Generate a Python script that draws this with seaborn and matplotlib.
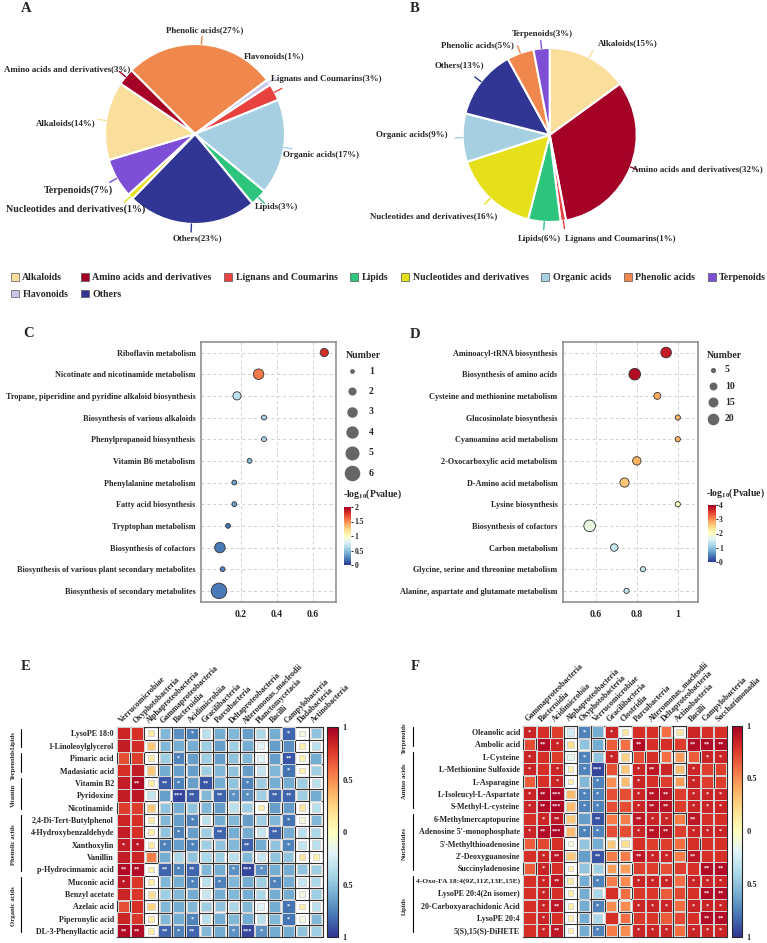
import numpy as np
import pandas as pd
import matplotlib
matplotlib.use("Agg")
import matplotlib.pyplot as plt
import seaborn as sns
from matplotlib.colors import Normalize
from matplotlib.cm import ScalarMappable
from matplotlib.patches import Patch

sns.set_style("white")
plt.rcParams["font.family"] = ["Liberation Serif", "DejaVu Serif"]
plt.rcParams["font.weight"] = "bold"
plt.rcParams["mathtext.fontset"] = "custom"
plt.rcParams["mathtext.rm"] = "Liberation Serif:bold"
plt.rcParams["mathtext.it"] = "Liberation Serif:bold"
plt.rcParams["mathtext.bf"] = "Liberation Serif:bold"

W, H = 767, 943

# ---------------- data: pies ----------------
class_names = ["Alkaloids", "Amino acids and derivatives", "Lignans and Coumarins", "Lipids",
               "Nucleotides and derivatives", "Organic acids", "Phenolic acids", "Terpenoids",
               "Flavonoids", "Others"]
class_colors = ["#FADF9C", "#A50026", "#E8413F", "#2DC47E", "#E6E01B", "#A6D0E2",
                "#F0884E", "#7D4FD6", "#C9C7E9", "#313695"]

pie_a_labels = ["Phenolic acids", "Flavonoids", "Lignans and Coumarins", "Organic acids", "Lipids",
                "Others", "Nucleotides and derivatives", "Terpenoids", "Alkaloids",
                "Amino acids and derivatives"]
pie_a_values = [27, 1, 3, 17, 3, 23, 1, 7, 14, 3]

pie_b_labels = ["Alkaloids", "Amino acids and derivatives", "Lignans and Coumarins", "Lipids",
                "Nucleotides and derivatives", "Organic acids", "Others", "Phenolic acids", "Terpenoids"]
pie_b_values = [15, 32, 1, 6, 16, 9, 13, 5, 3]

# ---------------- data: bubbles ----------------
c_pathways = ["Riboflavin metabolism", "Nicotinate and nicotinamide metabolism",
              "Tropane, piperidine and pyridine alkaloid biosynthesis",
              "Biosynthesis of various alkaloids", "Phenylpropanoid biosynthesis",
              "Vitamin B6 metabolism", "Phenylalanine metabolism", "Fatty acid biosynthesis",
              "Tryptophan metabolism", "Biosynthesis of cofactors",
              "Biosynthesis of various plant secondary metabolites",
              "Biosynthesis of secondary metabolites"]
c_ratio = [0.665, 0.30, 0.18, 0.33, 0.33, 0.25, 0.165, 0.165, 0.13, 0.085, 0.10, 0.08]
c_count = [2, 3, 2, 1, 1, 1, 1, 1, 1, 3, 1, 6]
c_logp = [1.8, 1.56, 0.66, 0.6, 0.6, 0.46, 0.36, 0.36, 0.2, 0.22, 0.26, 0.22]

d_pathways = ["Aminoacyl-tRNA biosynthesis", "Biosynthesis of amino acids",
              "Cysteine and methionine metabolism", "Glucosinolate biosynthesis",
              "Cyanoamino acid metabolism", "2-Oxocarboxylic acid metabolism",
              "D-Amino acid metabolism", "Lysine biosynthesis", "Biosynthesis of cofactors",
              "Carbon metabolism", "Glycine, serine and threonine metabolism",
              "Alanine, aspartate and glutamate metabolism"]
d_ratio = [0.943, 0.79, 0.90, 1.0, 1.0, 0.80, 0.74, 1.0, 0.57, 0.69, 0.83, 0.75]
d_count = [17, 25, 8, 5, 5, 11, 13, 4, 22, 9, 5, 5]
d_logp = [3.75, 3.9, 2.8, 2.75, 2.75, 2.75, 2.6, 2.0, 1.75, 1.45, 1.4, 1.4]

# ---------------- data: correlation heatmaps ----------------
e_rows = ["LysoPE 18:0", "1-Linoleoylglycerol", "Pimaric acid", "Madasiatic acid", "Vitamin B2",
          "Pyridoxine", "Nicotinamide", "2,4-Di-Tert-Butylphenol", "4-Hydroxybenzaldehyde",
          "Xanthoxylin", "Vanillin", "p-Hydrocinnamic acid", "Muconic acid", "Benzyl acetate",
          "Azelaic acid", "Piperonylic acid", "DL-3-Phenyllactic acid"]
e_cols = ["Verrucomicrobiae", "Oxyphotobacteria", "Alphaproteobacteria", "Gammaproteobacteria",
          "Bacteroidia", "Acidimicrobiia", "Gracilibacteria", "Parcubacteria",
          "Deltaproteobacteria", "Alteromonas_macleodii", "Planctomycetacia", "Bacilli",
          "Campylobacteria", "Dadabacteria", "Actinobacteria"]
e_r = [
    [0.85, 0.80, 0.12, -0.55, -0.70, -0.75, -0.35, -0.60, -0.55, -0.65, -0.40, -0.60, -0.85, -0.10, -0.50],
    [0.88, 0.82, 0.30, -0.55, -0.60, -0.60, -0.45, -0.65, -0.45, -0.60, -0.20, -0.65, -0.70, 0.08, -0.35],
    [0.70, 0.75, 0.12, -0.45, -0.75, -0.65, -0.45, -0.65, -0.50, -0.55, -0.20, -0.65, -0.90, 0.08, -0.60],
    [0.80, 0.88, 0.30, -0.60, -0.65, -0.65, -0.45, -0.55, -0.50, -0.65, -0.30, -0.55, -0.80, 0.08, -0.45],
    [0.88, 0.95, 0.12, -0.88, -0.75, -0.65, -0.90, -0.60, -0.50, -0.75, -0.45, -0.60, -0.60, -0.45, -0.35],
    [0.88, 0.90, -0.30, -0.65, -0.95, -0.88, -0.55, -0.85, -0.70, -0.70, -0.45, -0.85, -0.85, -0.45, -0.60],
    [0.75, 0.75, 0.30, -0.50, -0.60, -0.50, -0.55, -0.65, -0.35, -0.45, 0.10, -0.65, -0.65, 0.15, -0.35],
    [0.85, 0.80, 0.12, -0.55, -0.65, -0.75, -0.35, -0.60, -0.55, -0.65, -0.45, -0.55, -0.80, -0.10, -0.55],
    [0.88, 0.80, 0.10, -0.50, -0.75, -0.65, -0.45, -0.85, -0.60, -0.60, -0.30, -0.85, -0.60, -0.35, -0.40],
    [0.88, 0.90, 0.12, -0.75, -0.65, -0.75, -0.45, -0.50, -0.55, -0.85, -0.60, -0.50, -0.75, -0.30, -0.35],
    [0.88, 0.85, 0.55, -0.60, -0.40, -0.50, -0.40, -0.45, -0.35, -0.55, -0.30, -0.50, -0.50, 0.15, 0.08],
    [0.95, 0.95, 0.10, -0.85, -0.75, -0.85, -0.55, -0.60, -0.70, -0.95, -0.70, -0.60, -0.60, -0.50, -0.45],
    [0.90, 0.78, 0.10, -0.55, -0.60, -0.75, -0.35, -0.75, -0.55, -0.60, -0.45, -0.75, -0.60, -0.30, -0.40],
    [0.85, 0.78, 0.20, -0.45, -0.55, -0.60, -0.30, -0.60, -0.55, -0.60, -0.40, -0.60, -0.60, -0.10, -0.45],
    [0.70, 0.80, 0.25, -0.55, -0.60, -0.55, -0.45, -0.50, -0.40, -0.55, -0.20, -0.60, -0.80, 0.10, -0.35],
    [0.85, 0.78, 0.12, -0.55, -0.60, -0.75, -0.35, -0.60, -0.55, -0.60, -0.35, -0.55, -0.80, -0.10, -0.55],
    [0.95, 0.95, 0.10, -0.85, -0.75, -0.85, -0.55, -0.60, -0.70, -0.95, -0.70, -0.60, -0.60, -0.50, -0.45],
]
e_sig = [
    ["", "", "", "", "", "*", "", "", "", "", "", "", "*", "", ""],
    ["", "", "", "", "", "", "", "", "", "", "", "", "", "", ""],
    ["", "", "", "", "*", "", "", "", "", "", "", "", "**", "", ""],
    ["", "", "", "", "", "", "", "", "", "", "", "", "*", "", ""],
    ["", "**", "", "**", "*", "", "**", "", "", "*", "", "", "", "", ""],
    ["", "", "", "", "***", "**", "", "**", "*", "*", "", "**", "**", "", ""],
    ["", "", "", "", "", "", "", "", "", "", "", "", "", "", ""],
    ["", "", "", "", "", "*", "", "", "", "", "", "", "*", "", ""],
    ["", "", "", "", "*", "", "", "**", "", "", "", "**", "", "", ""],
    ["*", "*", "", "*", "", "*", "", "", "", "**", "", "", "*", "", ""],
    ["", "", "", "", "", "", "", "", "", "", "", "", "", "", ""],
    ["**", "**", "", "**", "*", "**", "", "", "*", "***", "*", "", "", "", ""],
    ["*", "", "", "", "", "*", "", "*", "", "", "", "*", "", "", ""],
    ["", "", "", "", "", "", "", "", "", "", "", "", "", "", ""],
    ["", "", "", "", "", "", "", "", "", "", "", "", "*", "", ""],
    ["", "", "", "", "", "*", "", "", "", "", "", "", "*", "", ""],
    ["**", "**", "", "**", "*", "**", "", "", "*", "***", "*", "", "", "", ""],
]
e_groups = [("Lipids", 0, 1), ("Terpenoids", 2, 3), ("Vitamin", 4, 6),
            ("Phenolic acids", 7, 11), ("Organic acids", 12, 16)]

f_rows = ["Oleanolic acid", "Ambolic acid", "L-Cysteine", "L-Methionine Sulfoxide", "L-Asparagine",
          "L-Isoleucyl-L-Aspartate", "S-Methyl-L-cysteine", "6-Methylmercaptopurine",
          "Adenosine 5'-monophosphate", "5'-Methylthioadenosine", "2'-Deoxyguanosine",
          "Succinyladenosine", "4-Oxo-FA 18:4(9Z,11Z,13E,15E)", "LysoPE 20:4(2n isomer)",
          "20-Carboxyarachidonic Acid", "LysoPE 20:4", "5(S),15(S)-DiHETE"]
f_cols = ["Gammaproteobacteria", "Bacteroidia", "Acidimicrobiia", "Alphaproteobacteria",
          "Oxyphotobacteria", "Verrucomicrobiae", "Gracilibacteria", "Clostridia", "Parcubacteria",
          "Alteromonas_macleodii", "Deltaproteobacteria", "Actinobacteria", "Bacilli",
          "Campylobacteria", "Saccharimonadia"]
f_r = [
    [0.85, 0.80, 0.75, -0.25, -0.75, -0.60, 0.85, 0.15, 0.80, 0.80, 0.60, 0.15, 0.85, 0.80, 0.80],
    [0.70, 0.95, 0.85, 0.20, -0.50, -0.60, 0.65, 0.60, 0.95, 0.80, 0.80, 0.75, 0.95, 0.95, 0.95],
    [0.85, 0.80, 0.75, -0.15, -0.75, -0.50, 0.85, 0.25, 0.70, 0.80, 0.60, 0.45, 0.65, 0.85, 0.85],
    [0.85, 0.80, 0.85, 0.10, -0.75, -0.95, 0.70, 0.30, 0.85, 0.90, 0.85, 0.35, 0.85, 0.75, 0.75],
    [0.65, 0.80, 0.85, 0.10, -0.55, -0.75, 0.50, 0.35, 0.85, 0.80, 0.75, 0.45, 0.85, 0.75, 0.75],
    [0.85, 0.95, 0.97, 0.35, -0.75, -0.75, 0.70, 0.70, 0.85, 0.92, 0.92, 0.75, 0.85, 0.85, 0.85],
    [0.85, 0.95, 0.97, 0.35, -0.75, -0.75, 0.70, 0.70, 0.85, 0.92, 0.92, 0.75, 0.85, 0.85, 0.85],
    [0.80, 0.85, 0.90, 0.30, -0.65, -0.90, 0.55, 0.55, 0.90, 0.85, 0.85, 0.55, 0.90, 0.80, 0.80],
    [0.85, 0.95, 0.97, 0.35, -0.75, -0.75, 0.70, 0.70, 0.85, 0.92, 0.92, 0.75, 0.85, 0.85, 0.85],
    [0.65, 0.72, 0.80, -0.10, -0.50, -0.60, 0.30, 0.20, 0.80, 0.75, 0.75, 0.60, 0.80, 0.80, 0.80],
    [0.80, 0.85, 0.90, 0.30, -0.65, -0.90, 0.55, 0.55, 0.90, 0.85, 0.85, 0.55, 0.90, 0.80, 0.80],
    [0.65, 0.85, 0.80, 0.10, -0.50, -0.45, 0.45, 0.45, 0.75, 0.75, 0.70, 0.75, 0.80, 0.95, 0.95],
    [0.80, 0.85, 0.90, 0.12, -0.60, -0.75, 0.55, 0.50, 0.85, 0.85, 0.85, 0.60, 0.85, 0.85, 0.85],
    [0.80, 0.85, 0.80, 0.10, -0.60, -0.40, 0.80, 0.60, 0.78, 0.78, 0.65, 0.72, 0.80, 0.95, 0.95],
    [0.80, 0.85, 0.90, 0.10, -0.60, -0.75, 0.50, 0.50, 0.85, 0.85, 0.85, 0.60, 0.85, 0.85, 0.85],
    [0.80, 0.85, 0.80, 0.10, -0.60, -0.40, 0.80, 0.60, 0.78, 0.78, 0.65, 0.72, 0.80, 0.95, 0.95],
    [0.80, 0.85, 0.90, 0.10, -0.60, -0.75, 0.55, 0.50, 0.85, 0.85, 0.85, 0.60, 0.85, 0.85, 0.85],
]
f_sig = [
    ["*", "", "", "", "*", "", "*", "", "", "", "", "", "", "", ""],
    ["", "**", "*", "", "", "", "", "", "**", "", "", "", "**", "**", "**"],
    ["*", "", "", "", "*", "", "*", "", "", "", "", "", "", "*", "*"],
    ["*", "", "*", "", "*", "***", "", "", "*", "**", "", "", "*", "", ""],
    ["", "", "*", "", "", "*", "", "", "*", "", "", "", "*", "", ""],
    ["*", "**", "***", "", "*", "*", "", "", "*", "**", "**", "", "*", "*", "*"],
    ["*", "**", "***", "", "*", "*", "", "", "*", "**", "**", "", "*", "*", "*"],
    ["", "*", "**", "", "", "**", "", "", "**", "*", "*", "", "**", "", ""],
    ["*", "**", "***", "", "*", "*", "", "", "*", "**", "**", "", "*", "*", "*"],
    ["", "", "", "", "", "", "", "", "", "", "", "", "", "", ""],
    ["", "*", "**", "", "", "**", "", "", "**", "*", "*", "", "**", "", ""],
    ["", "*", "", "", "", "", "", "", "", "", "", "", "", "**", "**"],
    ["", "*", "**", "", "", "*", "", "", "*", "*", "*", "", "*", "*", "*"],
    ["", "*", "", "", "", "", "", "", "", "", "", "", "", "**", "**"],
    ["", "*", "**", "", "", "*", "", "", "*", "*", "*", "", "*", "*", "*"],
    ["", "*", "", "", "", "", "", "", "", "", "", "", "", "**", "**"],
    ["", "*", "**", "", "", "*", "", "", "*", "*", "*", "", "*", "*", "*"],
]
f_groups = [("Terpenoids", 0, 1), ("Amino acids", 2, 6), ("Nucleotides", 7, 11), ("Lipids", 12, 16)]

class_color = dict(zip(class_names, class_colors))
CMAP = "RdYlBu_r"

fig = plt.figure(figsize=(W / 100, H / 100), dpi=100)


def px_rect(left, top, w, h):
    return [left / W, 1 - (top + h) / H, w / W, h / H]


def fig_text(x, y, s, **kw):
    fig.text(x / W, 1 - y / H, s, **kw)


# ---------------- pies ----------------
def draw_pie(rect, labels, values, start, layout, big=()):
    ax = fig.add_axes(rect)
    wedges, _ = ax.pie(values, colors=[class_color[n] for n in labels], startangle=start,
                       counterclock=False, wedgeprops=dict(edgecolor="white", linewidth=1.5))
    for w, name, v in zip(wedges, labels, values):
        mid = np.deg2rad((w.theta1 + w.theta2) / 2)
        ax.plot([np.cos(mid), 1.09 * np.cos(mid)], [np.sin(mid), 1.09 * np.sin(mid)],
                color=class_color[name], lw=1, clip_on=False)
        tx, ty, ha = layout[name]
        ax.text(tx, ty, f"{name}({v}%)", ha=ha, va="center",
                fontsize=7.2 if name in big else 6.4)


a_layout = {
    "Phenolic acids": (0.11, 1.15, "center"),
    "Flavonoids": (0.54, 0.87, "left"),
    "Lignans and Coumarins": (0.84, 0.61, "left"),
    "Organic acids": (0.98, -0.23, "left"),
    "Lipids": (0.67, -0.81, "left"),
    "Others": (0.03, -1.16, "center"),
    "Nucleotides and derivatives": (-0.55, -0.84, "right"),
    "Terpenoids": (-0.91, -0.62, "right"),
    "Alkaloids": (-1.10, 0.12, "right"),
    "Amino acids and derivatives": (-0.72, 0.72, "right"),
}
b_layout = {
    "Terpenoids": (-0.085, 1.16, "center"),
    "Alkaloids": (0.55, 1.05, "left"),
    "Phenolic acids": (-0.41, 1.03, "right"),
    "Others": (-0.755, 0.80, "right"),
    "Organic acids": (-1.18, 0.0, "right"),
    "Nucleotides and derivatives": (-0.60, -0.93, "right"),
    "Lipids": (-0.12, -1.2, "center"),
    "Lignans and Coumarins": (0.18, -1.2, "left"),
    "Amino acids and derivatives": (0.95, -0.39, "left"),
}
draw_pie(px_rect(195 - 112.5, 134 - 112.5, 225, 225), pie_a_labels, pie_a_values, 135, a_layout,
         big=("Terpenoids", "Nucleotides and derivatives"))
draw_pie(px_rect(549.7 - 108.75, 135 - 108.75, 217.5, 217.5), pie_b_labels, pie_b_values, 90, b_layout)

# legend (column-major order so it reads row by row)
leg_order = ["Alkaloids", "Flavonoids", "Amino acids and derivatives", "Others",
             "Lignans and Coumarins", "Lipids", "Nucleotides and derivatives", "Organic acids",
             "Phenolic acids", "Terpenoids"]
handles = [Patch(facecolor=class_color[n], edgecolor="#555555", linewidth=0.5) for n in leg_order]
fig.legend(handles, leg_order, ncol=8, loc="upper left", bbox_to_anchor=(11 / W, 1 - 273 / H),
           frameon=False, fontsize=7.1, handlelength=0.8, handleheight=0.8, handletextpad=0.35,
           columnspacing=1.3, labelspacing=0.75, borderaxespad=0, borderpad=0)


# ---------------- bubble plots ----------------
def area(n, norm, rng):
    return rng[0] + (n - norm[0]) / (norm[1] - norm[0]) * (rng[1] - rng[0])


def draw_bubble(rect, pathways, ratio, count, logp, xlim, xticks, xlabels, norm, rng, pmax):
    df = pd.DataFrame({"pathway": pathways, "ratio": ratio, "count": count, "logp": logp})
    ax = fig.add_axes(rect)
    sns.scatterplot(data=df, x="ratio", y="pathway", size="count", size_norm=norm, sizes=rng,
                    hue="logp", hue_norm=(0, pmax), palette=CMAP, edgecolor="#333333",
                    linewidth=0.6, legend=False, ax=ax, zorder=3)
    ax.set_xlim(*xlim)
    ax.set_ylim(len(pathways) - 0.5, -0.5)
    ax.set_xticks(xticks)
    ax.set_xticklabels(xlabels, fontsize=7)
    ax.tick_params(axis="y", labelsize=5.9, length=0, pad=4)
    ax.tick_params(axis="x", length=0, pad=6)
    ax.set_axisbelow(True)
    ax.grid(True, ls=(0, (3, 3)), color="#cfcfcf", lw=0.7)
    ax.set_xlabel("")
    ax.set_ylabel("")
    for s in ax.spines.values():
        s.set_color("#888888")
        s.set_linewidth(1.1)
    return ax


c_norm, c_rng = (1, 6), (12, 125)
d_norm, d_rng = (5, 20), (14, 70)
draw_bubble(px_rect(201, 341.7, 135, 260), c_pathways, c_ratio, c_count, c_logp,
            (-0.02, 0.73), [0.2, 0.4, 0.6], ["0.2", "0.4", "0.6"], c_norm, c_rng, 2)
draw_bubble(px_rect(563, 341.7, 135.3, 260), d_pathways, d_ratio, d_count, d_logp,
            (0.44, 1.10), [0.6, 0.8, 1.0], ["0.6", "0.8", "1"], d_norm, d_rng, 4)

# size legends drawn in a pixel overlay
ov = fig.add_axes([0, 0, 1, 1])
ov.set_axis_off()
ov.set_xlim(0, W)
ov.set_ylim(H, 0)

fig_text(346, 356, "Number", fontsize=7, va="center")
for k, n in enumerate([1, 2, 3, 4, 5, 6]):
    y = 371 + 20.4 * k
    ov.scatter([352], [y], s=area(n, c_norm, c_rng), color="#666666", linewidths=0)
    fig_text(369, y, str(n), fontsize=7, va="center")

fig_text(707, 356, "Number", fontsize=7, va="center")
for k, n in enumerate([5, 10, 15, 20]):
    y = 370 + 16.2 * k
    ov.scatter([712.5], [y], s=area(n, d_norm, d_rng), color="#666666", linewidths=0)
    fig_text(725, y, str(n), fontsize=7, va="center")


def pval_bar(rect, vmax, ticks, title_xy):
    fig_text(title_xy[0], title_xy[1], r"-log$_{10}$(Pvalue)", fontsize=7, va="center")
    cax = fig.add_axes(rect)
    cb = fig.colorbar(ScalarMappable(Normalize(0, vmax), CMAP), cax=cax)
    cb.set_ticks(ticks)
    cb.set_ticklabels([f"{t:g}" for t in ticks])
    cb.outline.set_visible(False)
    cax.tick_params(labelsize=5.5, length=1.5, pad=1)


pval_bar(px_rect(344, 507, 7, 58), 2, [0, 0.5, 1, 1.5, 2], (343, 494))
pval_bar(px_rect(707.5, 505, 8, 57), 4, [0, 1, 2, 3, 4], (706, 493))


# ---------------- correlation heatmaps ----------------
def draw_corr(rect, cbar_rect, rows, cols, r, sig, groups, x_text, x_line):
    df = pd.DataFrame(r, index=rows, columns=cols).stack().reset_index()
    df.columns = ["metabolite", "taxon", "r"]
    df["abs_r"] = df["r"].abs()
    ax = fig.add_axes(rect)
    sns.scatterplot(data=df, x="taxon", y="metabolite", hue="r", hue_norm=(-1, 1), palette=CMAP,
                    size="abs_r", size_norm=(0, 1), sizes=(8, 96), marker="s",
                    edgecolor="#d6d6d6", linewidth=0.7, legend=False, ax=ax, zorder=3)
    nr, nc = len(rows), len(cols)
    ax.set_xlim(-0.5, nc - 0.5)
    ax.set_ylim(nr - 0.5, -0.5)
    ax.set_xticks(np.arange(-0.5, nc), minor=True)
    ax.set_yticks(np.arange(-0.5, nr), minor=True)
    ax.grid(True, which="minor", color="#333333", lw=0.8)
    ax.grid(False, which="major")
    ax.set_axisbelow(True)
    ax.xaxis.tick_top()
    ax.set_xticks(range(nc))
    ax.set_xticklabels(cols, rotation=45, ha="left", va="bottom", rotation_mode="anchor", fontsize=5.8)
    ax.set_yticks(range(nr))
    ax.set_yticklabels(rows, fontsize=5.8)
    ax.tick_params(which="both", length=0, pad=2)
    ax.set_xlabel("")
    ax.set_ylabel("")
    for s in ax.spines.values():
        s.set_color("#333333")
        s.set_linewidth(0.8)
    for i in range(nr):
        for j in range(nc):
            if sig[i][j]:
                ax.text(j, i, sig[i][j], ha="center", va="center", color="white",
                        fontsize=4.5, zorder=4)
    tr = ax.get_yaxis_transform()
    for name, i0, i1 in groups:
        ax.plot([x_line, x_line], [i0 - 0.4, i1 + 0.1], transform=tr, color="black", lw=0.8,
                clip_on=False)
        ax.text(x_text, (i0 + i1) / 2, name, transform=tr, rotation=90, ha="center",
                va="center", fontsize=4.8)
    cax = fig.add_axes(cbar_rect)
    cb = fig.colorbar(ScalarMappable(Normalize(-1, 1), CMAP), cax=cax)
    cb.set_ticks([-1, -0.5, 0, 0.5, 1])
    cb.set_ticklabels(["1", "0.5", "0", "0.5", "1"])
    cb.outline.set_linewidth(0.8)
    cax.tick_params(labelsize=6, length=0, pad=3)
    return ax


draw_corr(px_rect(116.7, 727.3, 206, 210), px_rect(327.3, 727.3, 11, 210), e_rows, e_cols, e_r,
          e_sig, e_groups, -0.503, -0.465)
ax_f = draw_corr(px_rect(522.7, 725.7, 204.6, 211), px_rect(732.3, 725.7, 10, 211), f_rows, f_cols,
                 f_r, f_sig, f_groups, -0.578, -0.536)
ax_f.get_yticklabels()[12].set_fontsize(5.4)

# panel letters
for letter, x, y in [("A", 26, 8), ("B", 415, 8), ("C", 29, 333), ("D", 415, 334),
                     ("E", 25.5, 666), ("F", 415, 666)]:
    fig_text(x, y, letter, fontsize=10.5, ha="center", va="center")

fig.savefig("out.png", dpi=100)
